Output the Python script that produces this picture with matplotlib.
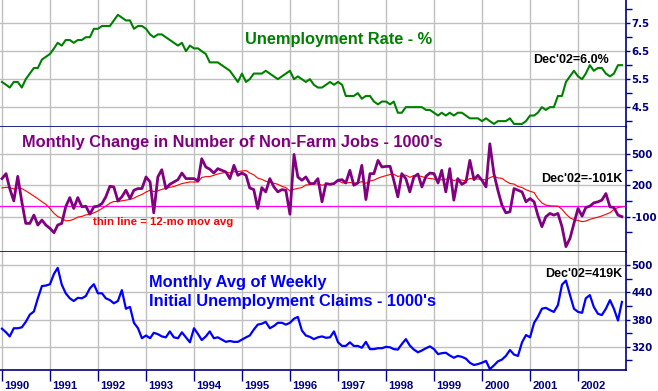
import numpy as np
import pandas as pd
import matplotlib
matplotlib.use("Agg")
import matplotlib.pyplot as plt
import matplotlib.dates as mdates
import matplotlib.transforms as mtransforms

plt.rcParams["axes.unicode_minus"] = False

# monthly data, Jan 1990 - Dec 2002
months = pd.date_range("1990-01-01", periods=156, freq="MS")

# unemployment rate, %
unemp = [
    5.4, 5.3, 5.2, 5.4, 5.4, 5.2, 5.5, 5.7, 5.9, 5.9, 6.2, 6.3,
    6.4, 6.6, 6.8, 6.7, 6.9, 6.9, 6.8, 6.9, 6.9, 7.0, 7.0, 7.3,
    7.3, 7.4, 7.4, 7.4, 7.6, 7.8, 7.7, 7.6, 7.6, 7.3, 7.4, 7.4,
    7.3, 7.1, 7.0, 7.1, 7.1, 7.0, 6.9, 6.8, 6.7, 6.8, 6.5, 6.7,
    6.6, 6.6, 6.5, 6.4, 6.1, 6.1, 6.1, 6.0, 5.9, 5.8, 5.6, 5.4,
    5.7, 5.4, 5.5, 5.7, 5.7, 5.7, 5.8, 5.7, 5.6, 5.5, 5.6, 5.7,
    5.8, 5.5, 5.6, 5.5, 5.4, 5.5, 5.3, 5.2, 5.2, 5.3, 5.4, 5.3,
    5.4, 5.3, 4.9, 4.9, 4.9, 5.0, 4.8, 4.9, 4.9, 4.7, 4.6, 4.7,
    4.7, 4.6, 4.7, 4.3, 4.3, 4.5, 4.5, 4.5, 4.5, 4.5, 4.4, 4.4,
    4.3, 4.2, 4.3, 4.2, 4.3, 4.2, 4.3, 4.3, 4.2, 4.1, 4.1, 4.1,
    4.0, 4.1, 4.0, 3.9, 4.0, 4.0, 4.0, 4.1, 3.9, 3.9, 3.9, 4.0,
    4.2, 4.2, 4.3, 4.5, 4.4, 4.5, 4.5, 4.9, 4.9, 5.4, 5.6, 5.8,
    5.6, 5.5, 5.7, 6.0, 5.8, 5.9, 5.9, 5.7, 5.6, 5.7, 6.0, 6.0,
]

# monthly change in non-farm payrolls, thousands
jobs = [
    266, 314, 170, 51, 288, 42, -166, -166, -86, -182, -134, -182,
    -214, -256, -182, -166, -6, 83, -22, 83, -6, 0, -77, -6,
    0, 26, 90, 192, 186, 51, 90, 154, 74, 154, 170, 170,
    282, 234, -64, 282, 352, 170, 211, 234, 256, 320, 266, 266,
    266, 243, 458, 378, 357, 320, 362, 346, 330, 266, 394, 298,
    320, 298, 176, 160, -22, 179, 138, 266, 186, 138, 160, 154,
    -77, 499, 282, 250, 282, 218, 218, 266, 42, 218, 211, 218,
    250, 256, 224, 346, 202, 224, 394, 64, 314, 314, 442, 378,
    384, 384, 250, 90, 314, 266, 138, 282, 310, 186, 288, 320,
    314, 224, 346, 138, 362, 58, 266, 211, 234, 442, 256, 298,
    250, 186, 602, 314, 154, 10, -64, -54, 170, 154, 138, 42,
    74, 42, -86, -198, -102, -70, -86, -70, -198, -390, -310, -166,
    -22, -96, -13, 0, 32, 42, 58, 122, -6, -13, -86, -101,
]
# Feb-Dec 1989 (estimated) so the 12-month average starts in Jan 1990
jobs_1989 = [240, 200, 215, 180, 110, 90, 130, 230, 120, 220, 111]

# monthly avg of weekly initial claims, thousands
claims = [
    360, 352, 343, 361, 361, 363, 375, 391, 398, 427, 454, 455,
    458, 481, 494, 457, 438, 427, 421, 428, 427, 432, 449, 458,
    438, 438, 427, 423, 416, 421, 445, 404, 408, 373, 361, 339,
    345, 339, 351, 348, 343, 341, 354, 341, 339, 352, 341, 330,
    361, 348, 335, 343, 354, 339, 341, 336, 331, 333, 331, 331,
    336, 341, 345, 358, 369, 371, 375, 361, 366, 373, 373, 369,
    373, 382, 386, 356, 345, 342, 337, 341, 343, 340, 341, 354,
    330, 322, 322, 330, 322, 322, 318, 331, 315, 315, 317, 317,
    320, 319, 315, 314, 326, 337, 323, 314, 308, 312, 317, 321,
    315, 304, 306, 307, 301, 296, 300, 298, 294, 285, 280, 282,
    285, 289, 271, 279, 288, 292, 300, 313, 303, 300, 330, 346,
    341, 373, 386, 404, 406, 401, 397, 412, 457, 466, 434, 404,
    397, 395, 427, 434, 408, 393, 390, 404, 423, 404, 378, 419,
]

jobs_avg = pd.Series(jobs_1989 + jobs).rolling(12).mean().iloc[11:].values

NAVY = "#000080"
GRID = "#c0c0c0"
W, H = 658, 391

fig = plt.figure(figsize=(W / 100, H / 100), dpi=100)


def panel(top, bottom):
    return fig.add_axes([0, 1 - bottom / H, 626 / W, (bottom - top) / H])


ax1 = panel(0, 127)
ax2 = panel(127, 252)
ax3 = panel(252, 370)

years = pd.date_range("1990-01-01", "2002-01-01", freq="YS")

for ax in (ax1, ax2, ax3):
    ax.set_xlim(pd.Timestamp("1989-12-17"), pd.Timestamp("2003-01-01"))
    ax.set_xticks(years)
    ax.grid(True, which="major", color=GRID, lw=1.0)
    ax.set_axisbelow(True)
    ax.spines["top"].set_visible(False)
    ax.spines["left"].set_visible(False)
    ax.spines["right"].set_color(NAVY)
    ax.spines["bottom"].set_color(NAVY)
    ax.spines["right"].set_linewidth(1.2)
    ax.spines["bottom"].set_linewidth(1.2)
    ax.yaxis.tick_right()
    ax.tick_params(axis="y", which="both", colors=NAVY, direction="out",
                   labelsize=7.4, pad=0.8, width=1)
    ax.tick_params(axis="y", which="major", length=3)
    ax.tick_params(axis="y", which="minor", length=4)
    ax.tick_params(axis="x", length=0, labelbottom=False)

# top: unemployment rate
ax1.plot(months, unemp, color="#008000", lw=1.5)
ax1.set_ylim(3.79, 8.33)
ax1.set_yticks([4.5, 5.5, 6.5, 7.5])
ax1.set_yticks([4, 5, 6, 7, 8], minor=True)
ax1.yaxis.set_major_formatter("{x:.1f}")

# middle: payroll changes
ax2.axhline(0, color="#ff00ff", lw=0.9)
ax2.plot(months, jobs_avg, color="#ff0000", lw=0.8)
ax2.plot(months, jobs, color="#800080", lw=2.0)
ax2.set_ylim(-442, 764)
ax2.set_yticks([-100, 200, 500])
ax2.set_yticks([-250, 50, 350, 650], minor=True)
ax2.yaxis.set_major_formatter("{x:.0f}")

# bottom: initial claims
ax3.plot(months, claims, color="#0000ff", lw=1.6)
ax3.set_ylim(269, 529)
ax3.set_yticks([320, 380, 440, 500])
ax3.set_yticks([290, 350, 410, 470], minor=True)

ax3.xaxis.set_major_formatter(mdates.DateFormatter("%Y"))
ax3.tick_params(axis="x", length=8, width=1, color=NAVY, labelcolor=NAVY,
                labelbottom=True, labelsize=8.1, pad=0)
shift = mtransforms.ScaledTranslation(2.5 / 100, 0, fig.dpi_scale_trans)
for lbl in ax3.get_xticklabels():
    lbl.set_horizontalalignment("left")
    lbl.set_transform(lbl.get_transform() + shift)
    lbl.set_fontweight("bold")
    lbl.set_family("Liberation Sans")

for ax in (ax1, ax2, ax3):
    for lbl in ax.get_yticklabels():
        lbl.set_fontweight("bold")
        lbl.set_family("DejaVu Sans")


def label(x, y, s, color, size):
    fig.text(x / W, 1 - y / H, s, color=color, fontsize=size, fontweight="bold",
             family="Liberation Sans", ha="left", va="baseline")


label(245, 44.3, "Unemployment Rate - %", "#008000", 11.8)
label(533, 62.7, "Dec'02=6.0%", "black", 9.0)
label(22, 146.7, "Monthly Change in Number of Non-Farm Jobs - 1000's", "#800080", 11.8)
label(541, 182.3, "Dec'02=-101K", "black", 9.0)
label(93, 225, "thin line = 12-mo mov avg", "#ff0000", 8.2)
label(149, 286.7, "Monthly Avg of Weekly", "#0000ff", 11.8)
label(149, 305.7, "Initial Unemployment Claims - 1000's", "#0000ff", 11.8)
label(545, 276.7, "Dec'02=419K", "black", 9.0)

fig.savefig("out.png", dpi=100)
